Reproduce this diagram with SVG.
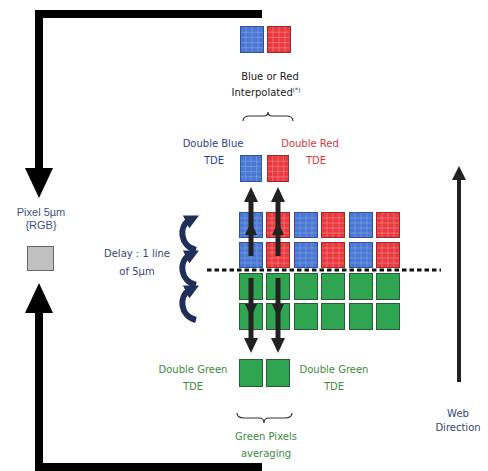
<svg xmlns="http://www.w3.org/2000/svg" width="488" height="471" viewBox="0 0 488 471">
<style>
.t{font-family:"DejaVu Sans","Liberation Sans",sans-serif;font-size:10px;text-anchor:middle}
.blk{fill:#222}
.bl{fill:#2f3f8f}
.rd{fill:#d23a40}
.gr{fill:#3d8a3d}
.nv{fill:#34466e}
.px{font-family:"Liberation Sans",Arial,sans-serif;font-size:11px;fill:#3a5286;text-anchor:middle}
.brace{fill:none;stroke:#333;stroke-width:1.2}
.shaft{stroke:#222;stroke-width:5;fill:none}
.big{stroke:#000;stroke-width:8;fill:none}
.green{fill:#2fa552;stroke:#2a5a34;stroke-width:1}
.curl{fill:none;stroke:#1f2f58;stroke-width:6}
</style>
<defs>
<symbol id="bt" viewBox="0 0 24 27" preserveAspectRatio="none">
<rect x="0.5" y="0.5" width="23" height="26" fill="#4a78d2" stroke="#2f4f9a"/>
<path d="M6,1V26M12,1V26M18,1V26M1,6.2H23M1,11.4H23M1,16.6H23M1,21.8H23" stroke="#86a4e6" stroke-width="0.6"/>
</symbol>
<symbol id="rt" viewBox="0 0 24 27" preserveAspectRatio="none">
<rect x="0.5" y="0.5" width="23" height="26" fill="#ea3a40" stroke="#9a2a2a"/>
<path d="M6,1V26M12,1V26M18,1V26M1,6.2H23M1,11.4H23M1,16.6H23M1,21.8H23" stroke="#f48a8c" stroke-width="0.6"/>
</symbol>
<marker id="ch" viewBox="0 0 10 10" refX="3" refY="5" markerWidth="2.4" markerHeight="2.4" orient="auto">
<path d="M0,0L10,5L0,10z" fill="#1f2f58"/>
</marker>
</defs>

<g id="connectors">
<path class="big" d="M262,14H39V170"/>
<polygon points="25,168 53,168 39,198" fill="#000"/>
<path class="big" d="M39,311V467H262"/>
<polygon points="25,313 53,313 39,283" fill="#000"/>
<line x1="207" y1="270" x2="441" y2="270" stroke="#111" stroke-width="3" stroke-dasharray="4.5,3"/>
<line x1="459" y1="382" x2="459" y2="178" stroke="#222" stroke-width="4"/>
<polygon points="452,180 466,180 459,166" fill="#222"/>
</g>

<g id="interpolated">
<use href="#bt" x="240" y="26" width="24" height="27"/>
<use href="#rt" x="267" y="26" width="24" height="27"/>
<text class="t blk" x="270" y="80">Blue or Red</text>
<text class="t blk" x="266" y="96">Interpolated<tspan font-size="6" dy="-4">(*)</tspan></text>
<path class="brace" d="M243,121Q243,116 250,116H264Q268,116 268,112Q268,116 272,116H286Q293,116 293,121"/>
</g>

<g id="double-blue">
<text class="t bl" x="213" y="147">Double Blue</text>
<text class="t bl" x="214" y="164">TDE</text>
<use href="#bt" x="240" y="155" width="22" height="27"/>
</g>
<g id="double-red">
<use href="#rt" x="267" y="155" width="22" height="27"/>
<text class="t rd" x="310" y="147">Double Red</text>
<text class="t rd" x="316" y="164">TDE</text>
</g>

<g id="sensor">
<use href="#bt" x="239" y="212" width="24" height="26"/>
<use href="#rt" x="266" y="212" width="24" height="26"/>
<use href="#bt" x="294" y="212" width="24" height="26"/>
<use href="#rt" x="321" y="212" width="24" height="26"/>
<use href="#bt" x="349" y="212" width="24" height="26"/>
<use href="#rt" x="376" y="212" width="24" height="26"/>
<use href="#bt" x="239" y="242" width="24" height="26"/>
<use href="#rt" x="266" y="242" width="24" height="26"/>
<use href="#bt" x="294" y="242" width="24" height="26"/>
<use href="#rt" x="321" y="242" width="24" height="26"/>
<use href="#bt" x="349" y="242" width="24" height="26"/>
<use href="#rt" x="376" y="242" width="24" height="26"/>
<rect class="green" x="239.5" y="273.5" width="23" height="26"/>
<rect class="green" x="266.5" y="273.5" width="23" height="26"/>
<rect class="green" x="294.5" y="273.5" width="23" height="26"/>
<rect class="green" x="321.5" y="273.5" width="23" height="26"/>
<rect class="green" x="349.5" y="273.5" width="23" height="26"/>
<rect class="green" x="376.5" y="273.5" width="23" height="26"/>
<rect class="green" x="239.5" y="303.5" width="23" height="26"/>
<rect class="green" x="266.5" y="303.5" width="23" height="26"/>
<rect class="green" x="294.5" y="303.5" width="23" height="26"/>
<rect class="green" x="321.5" y="303.5" width="23" height="26"/>
<rect class="green" x="349.5" y="303.5" width="23" height="26"/>
<rect class="green" x="376.5" y="303.5" width="23" height="26"/>
</g>

<g id="tde-arrows">
<line class="shaft" x1="251" y1="256" x2="251" y2="200"/>
<polygon points="244,202 258,202 251,187" fill="#222"/>
<polygon points="245,235 257,235 251,222" fill="#222"/>
<line class="shaft" x1="278" y1="256" x2="278" y2="200"/>
<polygon points="271,202 285,202 278,187" fill="#222"/>
<polygon points="272,235 284,235 278,222" fill="#222"/>
<line class="shaft" x1="251" y1="278" x2="251" y2="340"/>
<polygon points="245,304 257,304 251,317" fill="#222"/>
<polygon points="244,338 258,338 251,353" fill="#222"/>
<line class="shaft" x1="278" y1="278" x2="278" y2="340"/>
<polygon points="272,304 284,304 278,317" fill="#222"/>
<polygon points="271,338 285,338 278,353" fill="#222"/>
</g>

<g id="double-green">
<text class="t gr" x="193" y="373">Double Green</text>
<text class="t gr" x="193" y="390">TDE</text>
<rect class="green" x="239.5" y="359.5" width="23" height="27"/>
<rect class="green" x="266.5" y="359.5" width="23" height="27"/>
<text class="t gr" x="334" y="373">Double Green</text>
<text class="t gr" x="334" y="390">TDE</text>
</g>

<g id="green-averaging">
<path class="brace" d="M237,413Q237,418 244,418H259Q264,418 264,423Q264,418 269,418H285Q292,418 292,413"/>
<text class="t gr" x="266" y="440">Green Pixels</text>
<text class="t gr" x="266" y="457">averaging</text>
</g>

<g id="delay">
<text class="t nv" x="137" y="257">Delay : 1 line</text>
<text class="t nv" x="137" y="275">of 5μm</text>
<path class="curl" d="M196,250C180,246 178,226 190,220" marker-end="url(#ch)"/>
<path class="curl" d="M196,285C180,281 178,261 190,255" marker-end="url(#ch)"/>
<path class="curl" d="M196,320C180,316 178,296 190,290" marker-end="url(#ch)"/>
</g>

<g id="pixel">
<text class="px" x="41" y="216">Pixel 5µm</text>
<text class="px" x="41" y="229">{RGB}</text>
<rect x="27.5" y="246.5" width="26" height="24" fill="#c0c0c0" stroke="#666"/>
</g>

<g id="web-direction">
<text class="t nv" x="458" y="417">Web</text>
<text class="t nv" x="458" y="431">Direction</text>
</g>
</svg>
